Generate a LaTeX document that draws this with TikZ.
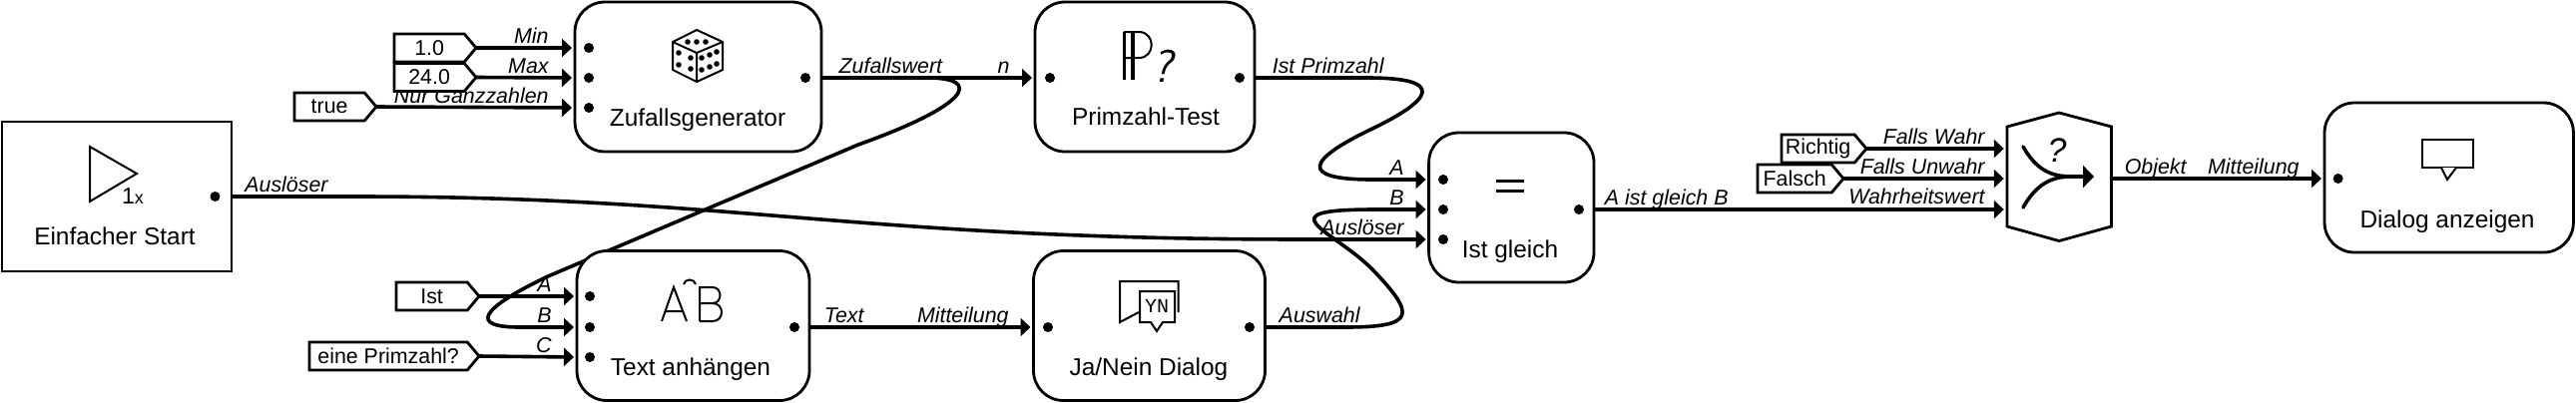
\documentclass[tikz,border=0pt]{standalone}
\usepackage{fontspec}
\setmainfont{Liberation Sans}
\newfontfamily\ymono{Liberation Mono}
\usetikzlibrary{arrows.meta,backgrounds,shapes.symbols}
\tikzset{
  block/.style={draw,fill=white,line width=1.4pt,rounded corners=15pt,inner sep=0pt,outer sep=0pt},
  startblock/.style={draw,fill=white,line width=1.4pt,inner sep=0pt,outer sep=0pt},
  blocktext/.style={font=\fontsize{12.2}{14}\selectfont,inner sep=0pt},
  constant/.style={draw,fill=white,line width=1.4pt,signal,signal to=east,signal pointer angle=100,inner sep=0pt,outer sep=0pt,anchor=east,minimum height=14pt,font=\fontsize{10.7}{12}\selectfont},
  portlabel/.style={font=\fontsize{10.7}{12}\selectfont\itshape,inner sep=0pt,anchor=base east},
  port/.style={circle,fill=black,inner sep=0pt,minimum size=5pt},
  wire/.style={line width=1.8pt,-{Triangle[length=5pt,width=9pt]},shorten >=1.5pt},
  icon/.style={line width=1pt}
}
\begin{document}
\begin{tikzpicture}[x=0.5pt,y=-0.5pt]
  \useasboundingbox (0,0) rectangle (2581,403);

  % draw the blocks
  \node[startblock,minimum width=115pt,minimum height=75pt] (start) at (117,197) {};
  \node[block,minimum width=123.5pt,minimum height=75pt] (zufall) at (699.5,77) {};
  \node[block,minimum width=110pt,minimum height=75pt] (prim) at (1147,77) {};
  \node[block,minimum width=116.5pt,minimum height=75pt] (anhang) at (694.5,326.5) {};
  \node[block,minimum width=116pt,minimum height=75pt] (janein) at (1151.5,326.5) {};
  \node[block,minimum width=82.7pt,minimum height=75pt] (gleich) at (1514.3,208) {};
  \node[block,minimum width=124.7pt,minimum height=75pt] (dialog) at (2453.7,178) {};
  \node[inner sep=0pt,outer sep=0pt,minimum width=52.5pt,minimum height=64.5pt] (merge) at (2063.3,179) {};
  \draw[line width=1.4pt,fill=white] (2011,127) -- (2063,113) -- (2115.5,127) -- (2115.5,227) -- (2063,241.5) -- (2011,227) -- cycle;

  \node[blocktext] (startText) at (115,237) {Einfacher Start};
  \node[blocktext] (zufallText) at (699,120) {Zufallsgenerator};
  \node[blocktext] (primText) at (1148,117) {Primzahl-Test};
  \node[blocktext] (anhangText) at (692,370) {Text anhängen};
  \node[blocktext] (janeinText) at (1151,370) {Ja/Nein Dialog};
  \node[blocktext] (gleichText) at (1513,252) {Ist gleich};
  \node[blocktext] (dialogText) at (2452,222) {Dialog anzeigen};

  % draw the ports
  \foreach \pname/\x/\y in {startOut/215.5/197,
    zufallMin/590/48,zufallMax/590/78,zufallGanz/590/108,zufallOut/807/78,
    primIn/1052/78,primOut/1242/78,
    anhangA/591/297,anhangB/591/328,anhangC/591/358,anhangOut/796/328,
    janeinIn/1050/328,janeinOut/1252/328,
    gleichA/1446/180,gleichB/1446/210,gleichAus/1446/240,gleichOut/1582/210,
    dialogIn/2342.6/179}
    \node[port] (\pname) at (\x,\y) {};

  % draw the constants
  \node[constant,minimum width=41pt] (konstMin) at (477,48) {1.0};
  \node[constant,minimum width=41pt] (konstMax) at (477,77.5) {24.0};
  \node[constant,minimum width=41pt] (konstGanz) at (377,107) {true};
  \node[constant,minimum width=41.5pt] (konstIst) at (480,297) {Ist};
  \node[constant,minimum width=85pt] (konstPrim) at (480,357) {eine Primzahl?};
  \node[constant,minimum width=42.5pt] (konstRichtig) at (1870,149) {Richtig};
  \node[constant,minimum width=43pt] (konstFalsch) at (1847,179) {Falsch};

  % the wires and their labels stay behind the blocks
  \begin{scope}[on background layer]
    \foreach \lname/\x/\y/\txt in {lblMin/550/43/Min,lblMax/550/73/Max,lblGanz/550/103/Nur Ganzzahlen,
      lblZufall/944.5/73/Zufallswert,lblN/1012/73/n,lblIstPrim/1387/73/Ist Primzahl,
      lblStart/329/192/Auslöser,lblA/553/292/A,lblB/553/323/B,lblC/553/353/C,
      lblText/866/323/Text,lblMitt/1011/323/Mitteilung,lblWahl/1363/323/Auswahl,
      lblGA/1407/175/A,lblGB/1407/205/B,lblGAus/1407/235/Auslöser,lblErg/1732/205/A ist gleich B,
      lblWahr/1989/144/Falls Wahr,lblUnwahr/1989/174/Falls Unwahr,lblWert/1989/204/Wahrheitswert,
      lblObj/2191/174/Objekt,lblDlg/2304/174/Mitteilung}
      \node[portlabel] (\lname) at (\x,\y) {\txt};

    \draw[wire] (konstMin.east) -- (zufallMin -| zufall.west);
    \draw[wire] (konstMax.east) -- (zufallMax -| zufall.west);
    \draw[wire] (konstGanz.east) -- (zufallGanz -| zufall.west);
    \draw[wire] (konstIst.east) -- (anhangA -| anhang.west);
    \draw[wire] (konstPrim.east) -- (anhangC -| anhang.west);
    \draw[wire] (konstRichtig.east) -- (konstRichtig.east -| merge.west);
    \draw[wire] (konstFalsch.east) -- (konstFalsch.east -| merge.west);

    \draw[wire] (zufallOut -| zufall.east) -- (primIn -| prim.west);
    \draw[wire] (anhangOut -| anhang.east) -- (janeinIn -| janein.west);
    \draw[wire] (gleichOut -| gleich.east) -- (gleichOut -| merge.west);
    \draw[wire] (merge.east) -- (dialogIn -| dialog.west);

    % the long curved ones
    \draw[wire] (zufallOut -| zufall.east) -- (929,78) .. controls (985,78) and (972,105) .. (860,145)
      -- (549,277) .. controls (480,310) and (470,328) .. (521,328) -- (anhangB -| anhang.west);
    \draw[wire] (startOut -| start.east) -- (356,197) .. controls (740,197) and (850,240) .. (1310,240)
      -- (gleichAus -| gleich.west);
    \draw[wire] (primOut -| prim.east) -- (1370,78) .. controls (1450,78) and (1435,100) .. (1375,129)
      .. controls (1310,160) and (1300,180) .. (1375,180) -- (gleichA -| gleich.west);
    \draw[wire] (janeinOut -| janein.east) -- (1348,328) .. controls (1420,328) and (1418,315) .. (1375,270)
      .. controls (1335,230) and (1265,210) .. (1378,210) -- (gleichB -| gleich.west);
  \end{scope}

  % start icon
  \draw[icon] (90,147) -- (137,174) -- (90,202) -- cycle;
  \node[inner sep=0pt] (einmal) at (133,197) {\fontsize{11.5}{12}\selectfont 1\fontsize{9}{12}\selectfont x};

  % dice icon
  \draw[icon,line join=round] (698,30) -- (724,42) -- (724,70) -- (698,82) -- (674,70) -- (674,42) -- cycle;
  \draw[icon] (674,42) -- (698,53) -- (724,42) (698,53) -- (698,82);
  \foreach \x/\y in {689/42,698/42,707/42,680/53,692/58,680/65,692/69,703/58,711/55,718/52,703/70,711/67,718/64}
    \fill (\x,\y) circle (1.4pt);

  % prime test icon
  \draw[line width=1.7pt] (1126.5,32) -- (1126.5,80) (1135,32) -- (1135,80);
  \draw[icon] (1126,32) -- (1141,32) .. controls (1158,32) and (1158,58) .. (1141,58) -- (1126,58);
  \node[inner sep=0pt,font=\sffamily\itshape\fontsize{23}{23}\selectfont] (primFrage) at (1165,66) {?};

  % append icon
  \draw[icon] (663,322) -- (675,288) -- (688,322) (667,312) -- (684,312);
  \draw[icon] (685,285) .. controls (686,279) and (696,279) .. (697,285);
  \draw[icon] (701,322) -- (701,288) -- (714,288) .. controls (724,288) and (724,304) .. (714,304) -- (701,304)
    (714,304) .. controls (726,304) and (726,322) .. (714,322) -- (701,322);

  % yes/no icon
  \draw[icon] (1180.7,313) -- (1180.7,282) -- (1122,282) -- (1122,323) -- (1141,313);
  \draw[icon,fill=white] (1142,292) -- (1177,292) -- (1177,323) -- (1165,323) -- (1159,332) -- (1153,323) -- (1142,323) -- cycle;
  \node[inner sep=0pt,font=\ymono\fontsize{10}{10}\selectfont] (janeinYN) at (1159,307) {YN};

  % equal icon
  \draw[line width=1.5pt] (1499,181) -- (1527,181) (1499,191) -- (1527,191);

  % merge icon
  \node[inner sep=0pt,font=\itshape\fontsize{17}{18}\selectfont] (mergeFrage) at (2061,151) {?};
  \draw[line width=1.8pt,line cap=round] (2027,147) .. controls (2040,170) and (2055,177) .. (2075,177)
    (2027,208) .. controls (2040,185) and (2055,177) .. (2075,177);
  \draw[line width=1.8pt,-{Triangle[length=5.5pt,width=11pt]}] (2070,177) -- (2098,177);

  % dialog icon
  \draw[icon] (2427,140) rectangle (2477.5,168);
  \draw[icon,fill=white] (2446,168) -- (2452,180) -- (2461,168);
\end{tikzpicture}
\end{document}
